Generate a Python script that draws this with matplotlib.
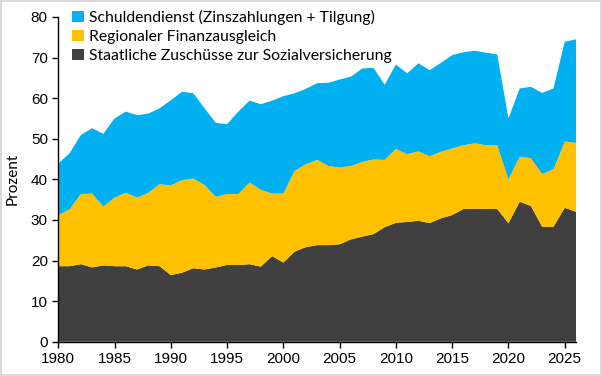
import numpy as np
import matplotlib
matplotlib.use("Agg")
import matplotlib.pyplot as plt
from matplotlib.patches import Patch

# Anteile in Prozent, 1980-2026
years = np.arange(1980, 2027)

zuschuesse = [18.6, 18.6, 19.1, 18.3, 18.8, 18.6, 18.6, 17.8, 18.8, 18.6,
              16.4, 17.0, 18.1, 17.8, 18.3, 18.9, 18.9, 19.1, 18.5, 21.1,
              19.5, 22.2, 23.3, 23.8, 23.8, 24.0, 25.2, 25.9, 26.5, 28.2,
              29.3, 29.5, 29.8, 29.2, 30.4, 31.2, 32.7, 32.8, 32.7, 32.7,
              29.2, 34.5, 33.4, 28.3, 28.3, 33.0, 32.0]

finanzausgleich = [12.6, 14.0, 17.3, 18.2, 14.5, 16.9, 18.1, 17.7, 17.9, 20.2,
                   22.1, 22.8, 22.1, 20.8, 17.4, 17.5, 17.5, 20.1, 18.9, 15.4,
                   17.0, 19.9, 20.4, 21.0, 19.5, 18.9, 18.1, 18.4, 18.4, 16.6,
                   18.2, 16.7, 17.1, 16.5, 16.4, 16.4, 15.7, 16.1, 15.7, 15.7,
                   10.8, 11.1, 11.8, 13.0, 14.2, 16.3, 17.0]

schuldendienst = [12.7, 13.8, 14.5, 16.1, 17.9, 19.5, 20.0, 20.3, 19.5, 18.7,
                  21.0, 21.8, 21.0, 18.9, 18.2, 17.2, 20.3, 20.2, 21.1, 22.9,
                  24.0, 19.1, 18.6, 18.9, 20.5, 21.7, 22.0, 23.0, 22.6, 18.5,
                  20.8, 19.9, 21.7, 21.2, 21.9, 23.0, 22.9, 22.8, 22.8, 22.4,
                  15.0, 16.8, 17.6, 20.0, 19.9, 24.6, 25.5]

labels = ["Staatliche Zuschüsse zur Sozialversicherung",
          "Regionaler Finanzausgleich",
          "Schuldendienst (Zinszahlungen + Tilgung)"]
colors = ["#404040", "#FFC000", "#00B0F0"]

plt.rcParams['font.family'] = ['Liberation Sans', 'DejaVu Sans']

fig = plt.figure(figsize=(6.02, 3.76), dpi=100)
fig.patch.set_edgecolor('#D9D9D9')
fig.patch.set_linewidth(1.5)
ax = fig.add_axes([0.0968, 0.0912, 0.860, 0.8636])

ax.stackplot(years, zuschuesse, finanzausgleich, schuldendienst,
             colors=colors, linewidth=0)

ax.set_xlim(1980, 2026)
ax.set_ylim(0, 80)
ax.set_xticks(np.arange(1980, 2026, 5))
ax.set_yticks(np.arange(0, 81, 10))
ax.tick_params(labelsize=11, length=4, width=1, direction='out', colors='black')
ax.spines['top'].set_visible(False)
ax.spines['right'].set_visible(False)
ax.spines['left'].set_linewidth(1)
ax.spines['bottom'].set_linewidth(1)
ax.set_ylabel("Prozent", fontsize=11, family=['Lato', 'DejaVu Sans'])
ax.yaxis.set_label_coords(-0.074, 0.5)

handles = [Patch(facecolor=c) for c in colors][::-1]
leg = ax.legend(handles, labels[::-1], loc='upper left', frameon=False,
                bbox_to_anchor=(0.0, 1.065), handlelength=0.75, handleheight=0.75,
                handletextpad=0.3, labelspacing=0.3,
                prop={'family': ['Lato', 'DejaVu Sans'], 'size': 11.3})

fig.savefig("out.png", dpi=100)
